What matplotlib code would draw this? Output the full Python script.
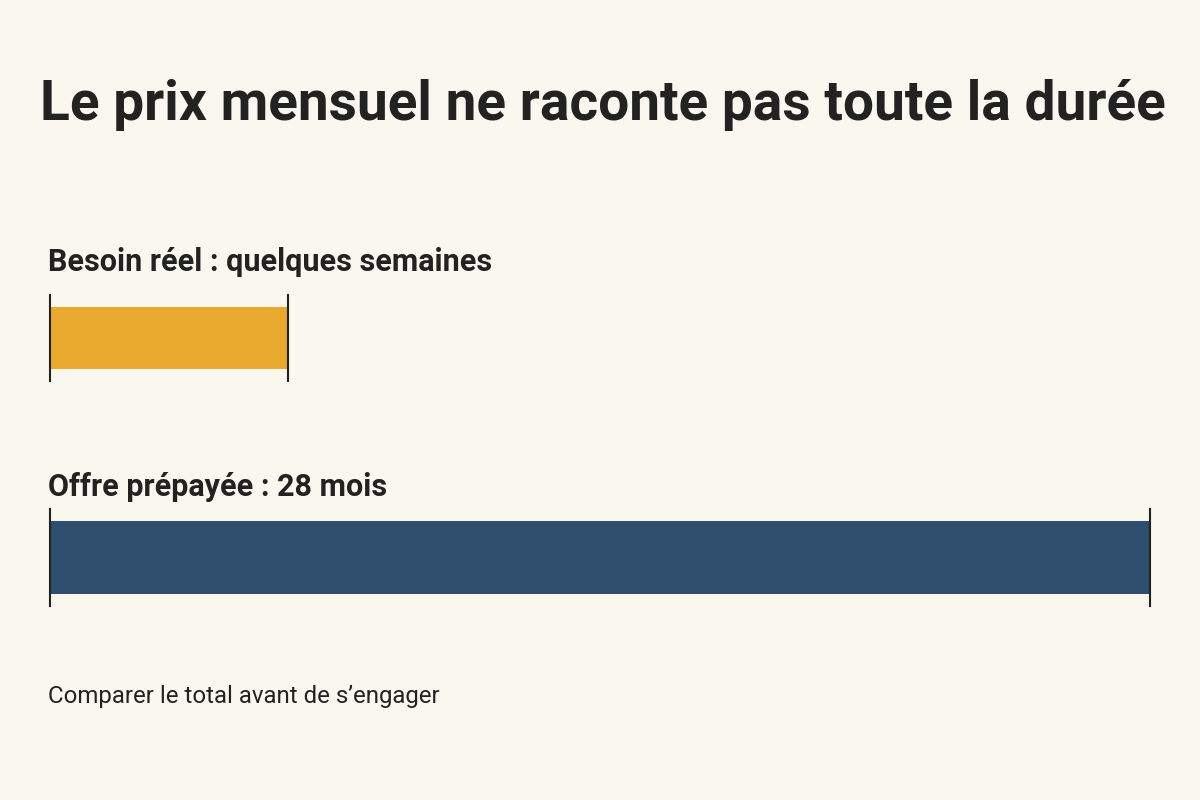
import matplotlib.pyplot as plt

plt.rcParams['font.family'] = ['Roboto', 'DejaVu Sans']

title = "Le prix mensuel ne raconte pas toute la durée"
labels = ["Besoin réel : quelques semaines", "Offre prépayée : 28 mois"]
months = [6.05, 28]
colors = ['#E8A92E', '#2F4E6E']
footer = "Comparer le total avant de s’engager"

bg = '#FAF7EF'
fig = plt.figure(figsize=(12, 8), dpi=100, facecolor=bg)
ax = fig.add_axes([50 / 1200, 0, 1100 / 1200, 1])
ax.set_facecolor(bg)
ax.set_xlim(0, 28)
ax.set_ylim(800, 0)
ax.axis('off')

centers = [338, 557]
heights = [62, 73]
label_y = [262, 487]
for lab, m, c, yc, h, ly in zip(labels, months, colors, centers, heights, label_y):
    ax.barh(yc, m, height=h, color=c)
    for xe in (0, m):
        ax.plot([xe, xe], [yc - h / 2 - 12, yc + h / 2 + 12], color='#222222', lw=1.5,
                clip_on=False)
    ax.text(-0.05, ly, lab, fontsize=22, fontweight='bold', color='#222222', va='center')

fig.text(40 / 1200, 1 - 105 / 800, title, fontsize=39.6, fontweight='bold',
         color='#222222', va='center')
fig.text(48 / 1200, 1 - 697 / 800, footer, fontsize=17.3, color='#222222', va='center')

fig.savefig('out.png', dpi=100, facecolor=bg)
